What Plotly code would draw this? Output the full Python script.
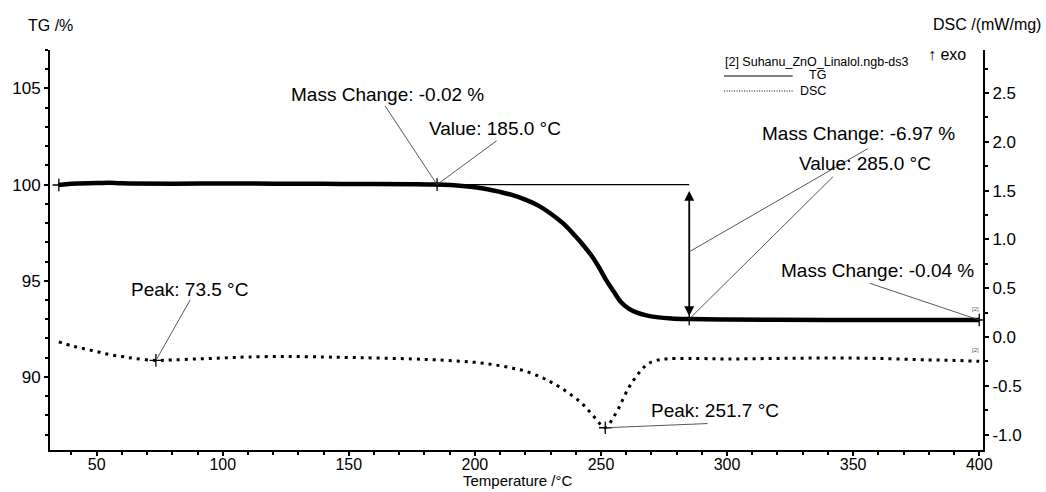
import numpy as np
import plotly.graph_objects as go

# ---------------- data ----------------
T_tg = [35, 40, 50, 55, 60, 80, 100, 120, 140, 160, 175, 185, 195, 200, 205, 210,
        215, 220, 225, 230, 235, 240, 243, 246, 249, 252, 255, 258, 261, 264, 268,
        272, 278, 285, 300, 320, 350, 380, 400]
TG = [99.98, 100.05, 100.08, 100.1, 100.07, 100.05, 100.06, 100.05, 100.04, 100.03,
      100.02, 100.0, 99.93, 99.86, 99.76, 99.62, 99.45, 99.22, 98.92, 98.5, 97.98,
      97.3, 96.85, 96.35, 95.75, 95.05, 94.45, 93.88, 93.55, 93.36, 93.2, 93.11,
      93.04, 93.01, 92.98, 92.97, 92.96, 92.96, 92.96]

T_dsc = [35, 40, 45, 50, 55, 60, 65, 73.5, 80, 90, 100, 110, 125, 140, 150, 160, 175,
         185, 195, 200, 205, 210, 215, 220, 226, 230, 234, 238, 242, 245, 248, 250,
         251.7, 253, 255, 257, 259, 261, 263, 265, 267, 269, 272, 276, 285, 300, 320,
         340, 360, 380, 390, 400]
DSC = [-0.05, -0.09, -0.12, -0.15, -0.18, -0.2, -0.22, -0.24, -0.235, -0.225, -0.215,
       -0.205, -0.2, -0.205, -0.21, -0.215, -0.225, -0.235, -0.25, -0.26, -0.275,
       -0.295, -0.32, -0.35, -0.41, -0.46, -0.52, -0.59, -0.67, -0.75, -0.84, -0.9,
       -0.93, -0.9, -0.82, -0.73, -0.62, -0.52, -0.44, -0.37, -0.31, -0.27, -0.24,
       -0.225, -0.22, -0.225, -0.22, -0.215, -0.22, -0.235, -0.24, -0.25]

x_ticks = [50, 100, 150, 200, 250, 300, 350, 400]
tg_ticks = [90, 95, 100, 105]
dsc_ticks = [-1.0, -0.5, 0.0, 0.5, 1.0, 1.5, 2.0, 2.5]
dsc_ticktext = ["-1.0", "-0.5", "0.0", "0.5", "1.0", "1.5", "2.0", "2.5"]

value_temps = [185.0, 285.0]
mass_changes = [-0.02, -6.97, -0.04]
peak_temps = [73.5, 251.7]

# ---------------- helpers ----------------
FONT = "Arial, 'Liberation Sans', sans-serif"


def tg_at(t):
    return float(np.interp(t, T_tg, TG))


def dsc_at(t):
    return float(np.interp(t, T_dsc, DSC))


fig = go.Figure()

# TG curve
fig.add_trace(go.Scatter(x=T_tg, y=TG, mode="lines", yaxis="y",
                         line=dict(color="black", width=4.5, shape="spline"),
                         showlegend=False, hoverinfo="skip"))
# DSC curve
fig.add_trace(go.Scatter(x=T_dsc, y=DSC, mode="lines", yaxis="y2",
                         line=dict(color="black", width=3, dash="3px,5px", shape="spline"),
                         showlegend=False, hoverinfo="skip"))

# cross markers
tg_mark_x = [T_tg[0], value_temps[0], value_temps[1], T_tg[-1]]
fig.add_trace(go.Scatter(x=tg_mark_x, y=[tg_at(t) for t in tg_mark_x], mode="markers",
                         yaxis="y",
                         marker=dict(symbol="cross-thin", size=9,
                                     line=dict(color="black", width=1.3)),
                         showlegend=False, hoverinfo="skip"))
fig.add_trace(go.Scatter(x=peak_temps, y=[dsc_at(t) for t in peak_temps], mode="markers",
                         yaxis="y2",
                         marker=dict(symbol="cross-thin", size=9,
                                     line=dict(color="black", width=1.3)),
                         showlegend=False, hoverinfo="skip"))

shapes = []
LEAD = dict(color="#444444", width=0.9)

# horizontal reference line at start mass from 185 to 285
shapes.append(dict(type="line", xref="x", yref="y",
                   x0=value_temps[0], x1=value_temps[1],
                   y0=tg_at(value_temps[0]), y1=tg_at(value_temps[0]),
                   line=dict(color="black", width=1.2)))

# leader lines (TG)
tg_leaders = [
    ((164.4, 104.09), (value_temps[0], tg_at(value_temps[0]))),
    ((208.6, 102.28), (value_temps[0], tg_at(value_temps[0]))),
    ((355.8, 101.87), (value_temps[1], (tg_at(value_temps[0]) + tg_at(value_temps[1])) / 2)),
    ((342.0, 100.41), (value_temps[1], tg_at(value_temps[1]))),
    ((356.6, 94.87), (T_tg[-1], tg_at(T_tg[-1]))),
]
for (xa, ya), (xb, yb) in tg_leaders:
    shapes.append(dict(type="line", xref="x", yref="y", x0=xa, y0=ya, x1=xb, y1=yb,
                       line=LEAD))
# leader lines (DSC)
dsc_leaders = [
    ((87.1, 0.38), (peak_temps[0], dsc_at(peak_temps[0]))),
    ((292.3, -0.887), (peak_temps[1], dsc_at(peak_temps[1]))),
]
for (xa, ya), (xb, yb) in dsc_leaders:
    shapes.append(dict(type="line", xref="x", yref="y2", x0=xa, y0=ya, x1=xb, y1=yb,
                       line=LEAD))

# legend lines (paper)
shapes.append(dict(type="line", xref="paper", yref="paper", x0=0.7225, x1=0.796,
                   y0=0.935, y1=0.935, line=dict(color="black", width=1)))
shapes.append(dict(type="line", xref="paper", yref="paper", x0=0.7225, x1=0.796,
                   y0=0.8975, y1=0.8975, line=dict(color="black", width=1, dash="1px,1.5px")))

annotations = []
TXT = dict(family=FONT, size=19, color="black")


def fmt_mc(v):
    return f"Mass Change: {v:.2f} %"


text_items = [
    (165.2, 104.7, "y", fmt_mc(mass_changes[0])),
    (207.9, 102.9, "y", f"Value: {value_temps[0]:.1f} °C"),
    (352.3, 102.64, "y", fmt_mc(mass_changes[1])),
    (354.7, 101.09, "y", f"Value: {value_temps[1]:.1f} °C"),
    (359.8, 95.54, "y", fmt_mc(mass_changes[2])),
    (86.7, 0.485, "y2", f"Peak: {peak_temps[0]:.1f} °C"),
    (295.1, -0.753, "y2", f"Peak: {peak_temps[1]:.1f} °C"),
]
for x, y, yr, t in text_items:
    annotations.append(dict(x=x, y=y, xref="x", yref=yr, text=t, showarrow=False,
                            font=TXT, xanchor="center", yanchor="middle"))

# double-headed mass change arrow
annotations.append(dict(x=value_temps[1], y=tg_at(value_temps[1]) + 0.15,
                        ax=value_temps[1], ay=tg_at(value_temps[0]) - 0.25,
                        xref="x", yref="y", axref="x", ayref="y", text="",
                        showarrow=True, arrowhead=2, startarrowhead=2,
                        arrowside="end+start", arrowwidth=1.8, arrowsize=1.1,
                        startarrowsize=1.1, arrowcolor="black"))

# tiny [2] tags
annotations.append(dict(x=398.5, y=93.52, xref="x", yref="y", text="[2]", showarrow=False,
                        font=dict(family=FONT, size=6, color="#555555")))
annotations.append(dict(x=398.5, y=-0.133, xref="x", yref="y2", text="[2]", showarrow=False,
                        font=dict(family=FONT, size=6, color="#555555")))

# legend text
LEG = dict(family=FONT, size=12.5, color="black")
annotations.append(dict(x=0.8218, y=0.97, xref="paper", yref="paper",
                        text="[2] Suhanu_ZnO_Linalol.ngb-ds3", showarrow=False, font=LEG,
                        xanchor="center", yanchor="middle"))
annotations.append(dict(x=0.823, y=0.9375, xref="paper", yref="paper", text="TG",
                        showarrow=False, font=LEG, xanchor="center", yanchor="middle"))
annotations.append(dict(x=0.8175, y=0.8975, xref="paper", yref="paper", text="DSC",
                        showarrow=False, font=LEG, xanchor="center", yanchor="middle"))
annotations.append(dict(x=0.9616, y=0.99, xref="paper", yref="paper", text="↑ exo",
                        showarrow=False, font=dict(family=FONT, size=16, color="black"),
                        xanchor="center", yanchor="middle"))

# axis titles
annotations.append(dict(x=-0.026, y=1.06, xref="paper", yref="paper", text="TG /%",
                        showarrow=False, font=dict(family=FONT, size=16, color="black"),
                        xanchor="left", yanchor="middle"))
annotations.append(dict(x=1.064, y=1.065, xref="paper", yref="paper", text="DSC /(mW/mg)",
                        showarrow=False, font=dict(family=FONT, size=16, color="black"),
                        xanchor="right", yanchor="middle"))
annotations.append(dict(x=0.5016, y=-0.0775, xref="paper", yref="paper",
                        text="Temperature /°C", showarrow=False,
                        font=dict(family=FONT, size=15, color="black"),
                        xanchor="center", yanchor="middle"))

AX = dict(showline=True, linecolor="black", linewidth=2, showgrid=False, zeroline=False,
          ticks="outside", ticklen=4, tickwidth=1.5, tickcolor="black")

fig.update_layout(
    width=1046, height=492,
    margin=dict(l=46, r=63, t=50, b=42),
    paper_bgcolor="white", plot_bgcolor="white",
    showlegend=False,
    xaxis=dict(range=[31.5, 401.5], tickvals=x_ticks, ticklabelstandoff=-5,
               tickfont=dict(family=FONT, size=16, color="black"),
               minor=dict(dtick=10, ticks="outside", ticklen=3, tickcolor="black"),
               **AX),
    yaxis=dict(range=[86.2, 107], tickvals=tg_ticks,
               tickfont=dict(family=FONT, size=17, color="black"),
               minor=dict(dtick=1, ticks="outside", ticklen=3, tickcolor="black"),
               **AX),
    yaxis2=dict(range=[-1.158, 2.94], tickvals=dsc_ticks, ticktext=dsc_ticktext,
                overlaying="y", side="right",
                tickfont=dict(family=FONT, size=17, color="black"),
                minor=dict(dtick=0.25, ticks="outside", ticklen=3, tickcolor="black"),
                **AX),
    shapes=shapes,
    annotations=annotations,
)

fig.write_html("out.html")
